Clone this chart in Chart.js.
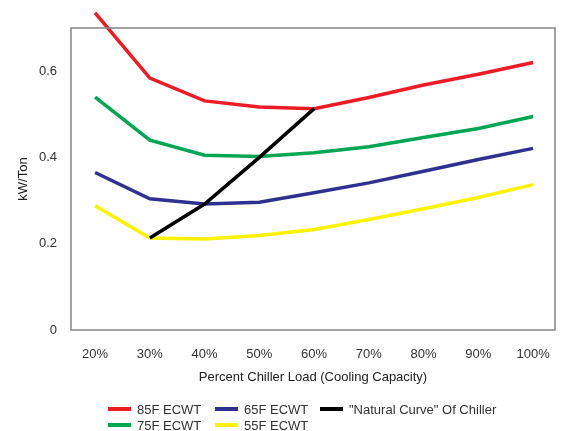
<!DOCTYPE html>
<html>
<head>
<meta charset="utf-8">
<script src="https://cdn.jsdelivr.net/npm/chart.js@4.4.0/dist/chart.umd.min.js"></script>
<style>
  html, body { margin: 0; padding: 0; background: #fff; }
  #wrap { position: relative; width: 561px; height: 431px; overflow: hidden; }
  #legend {
    position: absolute; left: 108px; top: 401px;
    display: grid; grid-template-columns: 107px 105px auto;
    grid-template-rows: 16px 16px; grid-auto-flow: column;
    font: 13px "Liberation Sans", Arial, sans-serif; color: #333;
  }
  #legend div { display: flex; align-items: center; white-space: nowrap; }
  #legend span.swatch { display: inline-block; width: 23px; height: 4px; margin-right: 6px; }
</style>
</head>
<body>
<div id="wrap">
  <canvas id="chart" width="561" height="431"></canvas>
  <div id="legend"></div>
</div>
<script>
// load in percent
const loads = [20, 30, 40, 50, 60, 70, 80, 90, 100];
// kW/Ton per entering condenser water temp
const kw85 = [0.735, 0.584, 0.531, 0.517, 0.513, 0.539, 0.568, 0.593, 0.620];
const kw75 = [0.540, 0.440, 0.405, 0.402, 0.411, 0.425, 0.446, 0.467, 0.495];
const kw65 = [0.365, 0.304, 0.292, 0.296, 0.318, 0.341, 0.368, 0.395, 0.421];
const kw55 = [0.288, 0.213, 0.211, 0.219, 0.233, 0.256, 0.281, 0.307, 0.337];
const naturalCurve = [null, 0.213, 0.292, 0.400, 0.513, null, null, null, null];
const yTicks = [0, 0.2, 0.4, 0.6];

const series = [
  { label: '85F ECWT', data: kw85, color: '#ed1c24' },
  { label: '75F ECWT', data: kw75, color: '#00a651' },
  { label: '65F ECWT', data: kw65, color: '#2e3192' },
  { label: '55F ECWT', data: kw55, color: '#fff200' },
  { label: '"Natural Curve" Of Chiller', data: naturalCurve, color: '#000000' }
];

const font = { family: '"Liberation Sans", Arial, sans-serif', size: 13 };

// draws the box round the plot area
const frame = {
  id: 'frame',
  afterDatasetsDraw(chart) {
    const { ctx, chartArea: a } = chart;
    ctx.save();
    ctx.strokeStyle = '#858585';
    ctx.lineWidth = 1.5;
    ctx.strokeRect(a.left, a.top, a.right - a.left, a.bottom - a.top);
    ctx.restore();
  }
};

const chart = new Chart(document.getElementById('chart'), {
  type: 'line',
  data: {
    datasets: series.map((s, i) => ({
      label: s.label,
      data: loads.map((x, j) => ({ x: x, y: s.data[j] })).filter(p => p.y !== null),
      borderColor: s.color,
      backgroundColor: s.color,
      borderWidth: 3.5,
      pointRadius: 0,
      tension: 0,
      clip: false,
      order: i === 4 ? -1 : 0
    }))
  },
  options: {
    responsive: false,
    animation: false,
    layout: { padding: { left: 0, right: 6, top: 28, bottom: 41 } },
    plugins: {
      legend: { display: false },
      tooltip: { enabled: false }
    },
    scales: {
      x: {
        type: 'linear',
        min: 15.6,
        max: 104,
        grid: { display: false },
        border: { display: false },
        afterBuildTicks: (scale) => { scale.ticks = loads.map(v => ({ value: v })); },
        afterFit: (scale) => {
          scale.height = 60;
          scale.paddingLeft = 0;
          scale.paddingRight = 0;
        },
        ticks: {
          padding: 9,
          color: '#333',
          font: font,
          maxRotation: 0,
          callback: (v) => v + '%'
        },
        title: {
          display: true,
          text: 'Percent Chiller Load (Cooling Capacity)',
          color: '#222',
          font: font,
          padding: { top: 0, bottom: 5 }
        }
      },
      y: {
        min: 0,
        max: 0.7,
        grid: { display: false },
        border: { display: false },
        afterBuildTicks: (scale) => { scale.ticks = yTicks.map(v => ({ value: v })); },
        afterFit: (scale) => { scale.width = 71; },
        ticks: {
          padding: 6,
          color: '#333',
          font: font,
          callback: (v) => v === 0 ? '0' : v.toFixed(1)
        },
        title: {
          display: true,
          text: 'kW/Ton',
          color: '#222',
          font: font,
          padding: { top: 16, bottom: 0 }
        }
      }
    }
  },
  plugins: [frame]
});

// legend in the same column-wise order as the original
const legendEl = document.getElementById('legend');
chart.data.datasets.forEach(ds => {
  const item = document.createElement('div');
  const sw = document.createElement('span');
  sw.className = 'swatch';
  sw.style.background = ds.borderColor;
  item.appendChild(sw);
  item.appendChild(document.createTextNode(ds.label));
  legendEl.appendChild(item);
});
</script>
</body>
</html>
